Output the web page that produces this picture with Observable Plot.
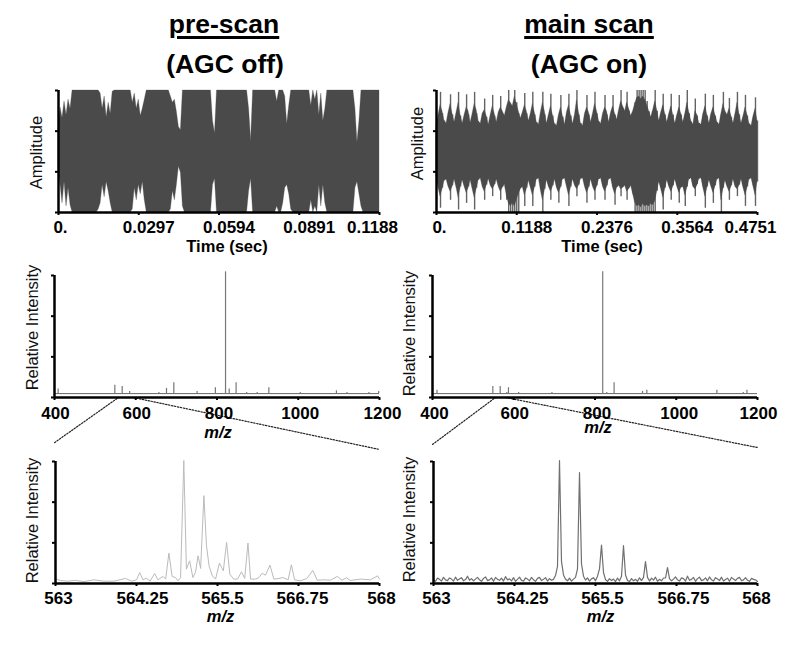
<!DOCTYPE html>
<html>
<head>
<meta charset="utf-8">
<script src="https://cdn.jsdelivr.net/npm/d3@7"></script>
<script src="https://cdn.jsdelivr.net/npm/@observablehq/plot@0.6"></script>
<style>
  html,body{margin:0;padding:0;background:#fff;}
  #page{position:relative;width:800px;height:646px;overflow:hidden;font-family:"Liberation Sans",Arial,sans-serif;}
  #page svg{position:absolute;}
  .title{position:absolute;width:300px;text-align:center;font-weight:bold;font-size:26.5px;line-height:30px;color:#000;}
  .u{text-decoration:underline;text-decoration-thickness:2.5px;text-underline-offset:3px;}
</style>
</head>
<body>
<div id="page"></div>
<script>
// ---------- waveform envelopes (amplitude, uniformly sampled across the scan) ----------
const preUpper = [.35,.72,.55,.82,.6,.85,.7,1,1,1,
  1,1,1,1,1,1,1,1,1,1,
  1,.95,.7,.9,.56,.8,.62,.98,1,1,
  1,1,1,1,1,1,1,.8,.95,.7,
  .85,.58,.7,.85,1,1,1,1,1,1,
  1,1,1,1,1,1,.9,.8,.85,.65,
  .4,.35,1,1,1,1,1,1,1,1,
  1,1,1,1,1,1,1,.5,.3,1,
  1,1,1,1,1,1,1,1,1,1,
  1,1,1,1,1,.7,.18,1,1,1,
  1,1,1,1,1,1,1,1,1,.82,
  1,1,1,.9,.45,.75,1,1,1,1,
  1,1,1,1,1,1,.75,1,.85,1,
  .6,.95,.5,.7,1,1,1,1,1,1,
  1,1,1,1,1,1,1,1,.7,.15,
  .5,1,1,1,1,1,1,1,1,1,
  1];
const preLower = [-.3,-.55,-.85,-.5,-.9,-.6,-.88,-1,-1,-1,
  -1,-1,-1,-1,-1,-1,-1,-1,-1,-1,
  -.95,-.85,-.55,-.75,-.5,-.65,-.85,-1,-1,-1,
  -1,-1,-1,-1,-1,-1,-1,-.95,-.6,-.8,
  -.55,-.7,-.5,-.8,-1,-1,-1,-1,-1,-1,
  -1,-1,-1,-1,-1,-1,-.95,-.65,-.8,-.55,
  -.25,-.35,-.9,-1,-1,-1,-1,-1,-1,-1,
  -1,-1,-1,-1,-1,-1,-1,-.55,-.45,-1,
  -1,-1,-1,-1,-1,-1,-1,-1,-1,-1,
  -1,-1,-1,-1,-1,-.65,-.45,-1,-1,-1,
  -1,-1,-1,-1,-1,-1,-1,-1,-1,-.9,
  -1,-1,-.85,-.6,-.55,-.7,-.95,-1,-1,-1,
  -1,-1,-1,-1,-1,-1,-.8,-1,-.9,-1,
  -.55,-.9,-.55,-.85,-1,-1,-1,-1,-1,-1,
  -1,-1,-1,-1,-1,-1,-1,-1,-.6,-.5,
  -.7,-.9,-1,-1,-1,-1,-1,-1,-1,-1,
  -1];
// needle tips of the main scan
const mainUpper = [.42,.55,.97,.62,.5,.46,.58,.93,.6,.48,.6,.97,.58,.46,.55,.93,.6,.47,.55,.97,.62,.48,.45,.58,.86,.56,.44,.55,.92,.58,.46,.6,.9,.62,.55,.68,1,.72,.68,1,.8,.62,.52,.6,.95,.62,.5,.58,.97,.6,.47,.44,.6,.97,.6,.46,.55,.94,.58,.45,.42,.56,.92,.56,.44,.6,.94,.58,.45,.56,1,.6,.46,.42,.58,.92,.6,.47,.58,.97,.62,.48,.45,.58,.92,.6,.47,.6,.92,.6,.5,.64,1,.7,.62,.97,.66,.55,.62,.8,1,1,1,1,1,.82,.65,.55,.66,1,.66,.5,.62,.94,.6,.48,.6,.94,.6,.46,.58,.92,.6,.47,.6,1,.62,.48,.44,.86,.58,.46,.44,.6,.94,.58,.46,.6,.92,.58,.47,.44,.6,.97,.62,.58,.87,.56,.46,.6,.97,.6,.46,.56,.92,.58,.45,.42,.55,.88,.5];
const mainLower = [-.42,-.58,-.93,-.6,-.48,-.46,-.56,-.8,-.56,-.46,-.58,-.96,-.58,-.47,-.56,-.85,-.58,-.47,-.6,-.96,-.6,-.47,-.44,-.56,-.8,-.55,-.45,-.54,-.74,-.54,-.46,-.56,-.8,-.58,-.52,-.8,-1,-1,-1,-1,-1,-1,-.6,-.56,-.9,-.6,-.48,-.58,-.9,-.58,-.46,-.44,-.62,-1,-.62,-.47,-.56,-.8,-.56,-.46,-.58,-.85,-.58,-.46,-.44,-.56,-.9,-.58,-.46,-.54,-.74,-.55,-.45,-.44,-.56,-.85,-.58,-.46,-.56,-.8,-.56,-.46,-.44,-.56,-.8,-.56,-.46,-.44,-.58,-.88,-.58,-.54,-.74,-.58,-.54,-.8,-.6,-.55,-.7,-1,-1,-1,-1,-1,-1,-1,-1,-1,-1,-1,-.65,-.5,-.6,-.96,-.6,-.47,-.56,-.8,-.56,-.46,-.56,-.85,-.58,-.56,-.9,-.58,-.46,-.44,-.56,-.74,-.54,-.45,-.44,-.58,-.93,-.58,-.47,-.56,-.85,-.56,-.46,-.44,-1,-.6,-.48,-.56,-.8,-.56,-.46,-.56,-.74,-.55,-.46,-.58,-.9,-.58,-.46,-.44,-.56,-.9,-.5];
// broad body of the main scan, below the needles
const mainBodyUpper = [.42,.6,.76,.66,.5,.46,.64,.78,.62,.48,
  .64,.8,.6,.46,.6,.72,.66,.47,.62,.78,
  .68,.5,.45,.62,.68,.58,.44,.6,.74,.62,
  .48,.64,.72,.66,.58,.72,.84,.8,.74,.9,
  .78,.66,.54,.64,.76,.66,.5,.62,.78,.64,
  .48,.44,.64,.8,.66,.46,.6,.74,.6,.45,
  .42,.6,.72,.58,.44,.64,.76,.6,.45,.6,
  .84,.64,.46,.42,.62,.72,.64,.48,.62,.78,
  .66,.5,.45,.62,.72,.66,.48,.64,.74,.62,
  .52,.68,.82,.74,.66,.8,.7,.58,.66,.78,
  .88,.9,.86,.9,.85,.76,.66,.56,.68,.82,
  .68,.5,.64,.76,.62,.48,.62,.74,.6,.46,
  .6,.72,.62,.48,.62,.8,.64,.5,.44,.66,
  .6,.46,.44,.62,.74,.6,.46,.62,.72,.6,
  .48,.44,.62,.78,.66,.6,.7,.58,.46,.62,
  .8,.62,.46,.58,.72,.6,.45,.42,.58,.7,.5];
const mainBodyLower = [-.42,-.6,-.74,-.62,-.48,-.46,-.58,-.66,-.58,-.46,
  -.6,-.76,-.6,-.47,-.58,-.68,-.6,-.47,-.62,-.76,
  -.62,-.47,-.44,-.58,-.66,-.56,-.45,-.56,-.62,-.56,
  -.46,-.58,-.66,-.6,-.54,-.72,-.85,-.9,-.85,-.9,
  -.8,-.7,-.62,-.58,-.72,-.62,-.48,-.6,-.72,-.6,
  -.46,-.44,-.64,-.8,-.64,-.47,-.58,-.66,-.58,-.46,
  -.6,-.68,-.6,-.46,-.44,-.58,-.72,-.6,-.46,-.56,
  -.62,-.56,-.45,-.44,-.58,-.68,-.6,-.46,-.58,-.66,
  -.58,-.46,-.44,-.58,-.66,-.58,-.46,-.44,-.6,-.7,
  -.6,-.56,-.62,-.6,-.56,-.66,-.62,-.56,-.7,-.84,
  -.9,-.88,-.92,-.86,-.9,-.88,-.9,-.86,-.88,-.82,
  -.66,-.5,-.62,-.76,-.62,-.47,-.58,-.66,-.58,-.46,
  -.58,-.68,-.6,-.58,-.72,-.6,-.46,-.44,-.58,-.62,
  -.56,-.45,-.44,-.6,-.74,-.6,-.47,-.58,-.68,-.58,
  -.46,-.44,-.8,-.62,-.48,-.58,-.66,-.58,-.46,-.58,
  -.62,-.56,-.46,-.6,-.72,-.6,-.46,-.44,-.58,-.72,-.5];

// ---------- full-range spectra: m/z peak list and relative intensity ----------
const preFullMz = [409,548.5,566.6,585,657,675.7,693.7,751,796,821,830,847,873,899,927.6,1005,1094,1120,1174,1198];
const preFullInt = [7,10,9,5,4,7.5,12,5,8,103,7,12,4,4,8,4,5.5,4,4,5];
const mainFullMz = [411,548.5,566.6,583,587,612,694,819,829,847,917,927.6,1100,1165,1174];
const mainFullInt = [6,9,9,4,8,4,4,103,4,12,5,6,6,4,6];
const fullBaseline = 3.2;

// ---------- zoomed spectra ----------
const preZoomMz = [563,563.08,563.18,563.31,563.44,563.59,563.75,563.9,564.08,564.18,564.25,564.3,564.35,564.4,564.46,564.53,564.58,564.66,564.7,564.75,564.8,564.85,564.89,564.93,564.98,565.02,565.07,565.12,565.16,565.2,565.24,565.29,565.33,565.37,565.42,565.47,565.53,565.59,565.64,565.69,565.75,565.81,565.87,565.92,565.97,566.01,566.09,566.14,566.19,566.24,566.31,566.37,566.45,566.51,566.59,566.64,566.69,566.78,566.88,566.97,567.04,567.14,567.24,567.35,567.42,567.49,567.55,567.71,567.86,567.97,568];
const preZoomInt = [3.6,2.5,1.9,2.5,1.6,3,1.9,1.9,4.1,1.9,3,9,3,4.4,1.9,8.2,3,5.8,3.6,24.9,5.8,4.9,2.2,4.9,100.8,11.8,18.6,4.9,9,22.7,12.3,72,31,14.5,6.3,3.6,16.7,10.4,33.7,7.7,3.6,3.6,9.6,4.1,33.2,3.6,3.6,4.9,8.5,6.8,15,3.6,4.1,4.9,3,15.3,3,2.2,4.1,10.7,2.7,3,2.7,5.8,2.7,4.7,2.5,3.6,3,6.3,3.6];
const mainZoomInt = [3,1.8,4.4,3.4,2,5,3,2.4,4.6,3.6,
  2,5.2,2.6,3.8,4.8,2.2,3.2,6,2.6,4,
  2.2,3.6,5,3,1.8,4.2,5.4,2.4,3,4.6,
  1.8,5,3.4,2.6,4.4,2,5.6,3,3.8,2.2,
  4.8,1.8,3.4,5.2,2.6,2,4.6,3.6,2.2,5,
  3,1.8,4.2,5,2.4,3.4,4.8,2,4,2.6,
  3.4,6.5,14,100.8,18,7,3.5,2.2,4.4,2,
  3.6,5,12,91,16,6,2.8,4.6,2,3.8,
  4.8,2.2,6,12,31.5,9,3.2,1.8,4,2.4,
  3.6,1.6,4.4,2.2,6,31,7,2.4,1.6,4,
  2.2,3.4,1.8,4.6,2.4,5,18,5,2,4.4,
  2.8,5.2,1.8,3.4,2.2,4.5,4.5,13,4,2.2,
  3.6,5.4,3,2,4.6,4,2,6,2.6,3.4,
  5,1.8,4,5.2,2.4,3,4.6,2.2,5.4,3,
  2,4.8,3.6,2.4,5.2,2,3.2,4.4,1.8,5,
  3.6,2.4,4.2,5,2.2,3,4.8,2.6,1.8,4.2,
  3.4,3,1.6];

// ---------- axis ticks and labels ----------
const preTimeTicks = [0,0.0297,0.0594,0.0891,0.1188];
const mainTimeTicks = [0,0.1188,0.2376,0.3564,0.4751];
const preTimeLabels = ["0.","0.0297","0.0594","0.0891","0.1188"];
const mainTimeLabels = ["0.","0.1188","0.2376","0.3564","0.4751"];
const fullTicks = [400,600,800,1000,1200];
const fullLabels = ["400","600","800","1000","1200"];
const zoomTicks = [563,564.25,565.5,566.75,568];
const zoomLabels = ["563","564.25","565.5","566.75","568"];
const ampTicks = [-1,-1/3,1/3,1];
const relTicks = [0,100/3,200/3,100];

// ---------- zoom connectors (m/z, intensity below the axis) ----------
const preConnMz = [400,557.5,594,1200];
const preConnInt = [-37,0,0,-42.6];
const mainConnMz = [400,555,580,1200];
const mainConnInt = [-38.5,0,0,-41];
const connGroup = ["a","a","b","b"];

const FONT = '"Liberation Sans", Arial, sans-serif';
const page = document.getElementById("page");

function title(text, cx, top, underline){
  const d = document.createElement("div");
  d.className = "title";
  d.style.left = (cx-150)+"px";
  d.style.top = top+"px";
  d.innerHTML = underline ? `<span class="u">${text}</span>` : text;
  page.appendChild(d);
}
title("pre-scan",224,9,true);
title("(AGC off)",225,49,false);
title("main scan",589,9,true);
title("(AGC on)",589,49,false);

function panel(o){
  const [xmin] = o.xDomain;
  const marks = [...o.marks];
  marks.push(Plot.axisX({ticks:o.xTicks,tickSize:3,strokeWidth:2,tickFormat:()=>"",label:null}));
  marks.push(Plot.axisY({ticks:o.yTicks,tickSize:3,strokeWidth:2,tickFormat:()=>"",label:null}));
  marks.push(Plot.ruleX([xmin],{stroke:"#000",strokeWidth:2.5}));
  marks.push(Plot.ruleY([o.yDomain[0]],{stroke:"#000",strokeWidth:2.5}));
  o.xLabels.forEach((t,i)=>{
    marks.push(Plot.text([o.xTicks[i]],{x:d=>d,text:()=>t,frameAnchor:"bottom",lineAnchor:"middle",dy:o.labelDy,dx:o.labelDx[i],fontSize:17,fontWeight:"bold",fill:"#000"}));
  });
  marks.push(Plot.text([o.xTitle],{text:d=>d,frameAnchor:"bottom",lineAnchor:"middle",dx:o.xTitleDx,dy:o.xTitleDy,fontSize:16.5,fontWeight:"bold",fontStyle:o.xTitleItalic?"italic":"normal",fill:"#000"}));
  marks.push(Plot.text([o.yTitle],{text:d=>d,frameAnchor:"left",textAnchor:"middle",lineAnchor:"middle",rotate:-90,dx:o.yTitleDx,dy:o.yTitleDy,fontSize:16.5,fill:"#111"}));
  const svg = Plot.plot({
    width:400,height:o.height,
    marginLeft:o.mL,marginRight:o.mR,marginTop:o.mT,marginBottom:o.mB,
    x:{domain:o.xDomain,axis:null},y:{domain:o.yDomain,axis:null},
    style:{background:"transparent",fontFamily:FONT,overflow:"visible"},
    marks
  });
  svg.style.left = o.left+"px";
  svg.style.top = o.top+"px";
  svg.style.maxWidth = "none";
  page.appendChild(svg);
}

const GREY = "#4a4a4a";
function preWave(upper,lower,T){
  return [Plot.areaY(upper,{x:(d,i)=>i*T/(upper.length-1),y1:lower,y2:upper,fill:GREY,stroke:GREY,strokeWidth:0.3})];
}
function mainWave(upper,lower,bodyUpper,bodyLower,T){
  const t=(d,i)=>i*T/(upper.length-1);
  return [
    Plot.ruleX(upper,{x:t,y1:lower,y2:upper,stroke:"#636363",strokeWidth:1.4}),
    Plot.areaY(bodyUpper,{x:t,y1:bodyLower,y2:bodyUpper,fill:GREY,stroke:GREY,strokeWidth:0.3})
  ];
}
function spectrum(mz,intensity,connMz,connInt){
  return [
    Plot.ruleY([fullBaseline],{stroke:"#666",strokeWidth:1}),
    Plot.ruleX(mz,{x:d=>d,y1:fullBaseline,y2:intensity,stroke:"#777",strokeWidth:1.2}),
    Plot.line(connMz,{x:d=>d,y:connInt,z:connGroup,stroke:"#222",strokeWidth:1.2,strokeDasharray:"1.5 1.5"})
  ];
}

// Top row
const topBase = {top:80,height:175,mT:10,mB:43,yDomain:[-1,1],yTicks:ampTicks,yTitle:"Amplitude",labelDy:15,xTitle:"Time (sec)",xTitleDy:34};
panel({...topBase,left:0,mL:58,mR:21,xDomain:[0,0.1188],xTicks:preTimeTicks,xLabels:preTimeLabels,labelDx:[2,10,10,10,-7],xTitleDx:8,yTitleDx:-22,yTitleDy:1,
  marks:preWave(preUpper,preLower,0.1188)});
panel({...topBase,left:400,mL:36,mR:43,xDomain:[0,0.4751],xTicks:mainTimeTicks,xLabels:mainTimeLabels,labelDx:[3,10,10,10,-7],xTitleDx:5,yTitleDx:-19,yTitleDy:-8,
  marks:mainWave(mainUpper,mainLower,mainBodyUpper,mainBodyLower,0.4751)});

// Middle row
const midBase = {top:255,height:197,mT:20,mB:55,yDomain:[0,100],yTicks:relTicks,yTitle:"Relative Intensity",xDomain:[400,1200],xTicks:fullTicks,xLabels:fullLabels,xTitle:"m/z",xTitleItalic:true};
panel({...midBase,left:0,mL:54,mR:21,labelDy:16,labelDx:[1,1,2,2,3],xTitleDx:1,xTitleDy:35,yTitleDx:-22,yTitleDy:-9,
  marks:spectrum(preFullMz,preFullInt,preConnMz,preConnInt)});
panel({...midBase,left:400,mL:32,mR:43,labelDy:16,labelDx:[2,1,2,3,1],xTitleDx:3,xTitleDy:30,yTitleDx:-23,yTitleDy:-3,
  marks:spectrum(mainFullMz,mainFullInt,mainConnMz,mainConnInt)});

// Bottom row
const botBase = {top:452,height:194,mT:9,mB:63,yDomain:[0,100],yTicks:relTicks,yTitle:"Relative Intensity",xDomain:[563,568],xTicks:zoomTicks,xLabels:zoomLabels,labelDy:15,xTitle:"m/z",xTitleItalic:true,xTitleDy:33};
panel({...botBase,left:0,mL:55,mR:21,labelDx:[3,6,5,4,2],xTitleDx:3,yTitleDx:-23,yTitleDy:-2,
  marks:[Plot.line(preZoomMz,{x:d=>d,y:preZoomInt,stroke:"#bbb",strokeWidth:1})]});
panel({...botBase,left:400,mL:33,mR:43,labelDx:[3,8,7,7,-1],xTitleDx:5,yTitleDx:-24,yTitleDy:-3,
  marks:[Plot.line(mainZoomInt,{x:(d,i)=>563+i*5/(mainZoomInt.length-1),y:d=>d,stroke:"#707070",strokeWidth:1.2})]});
</script>
</body>
</html>
